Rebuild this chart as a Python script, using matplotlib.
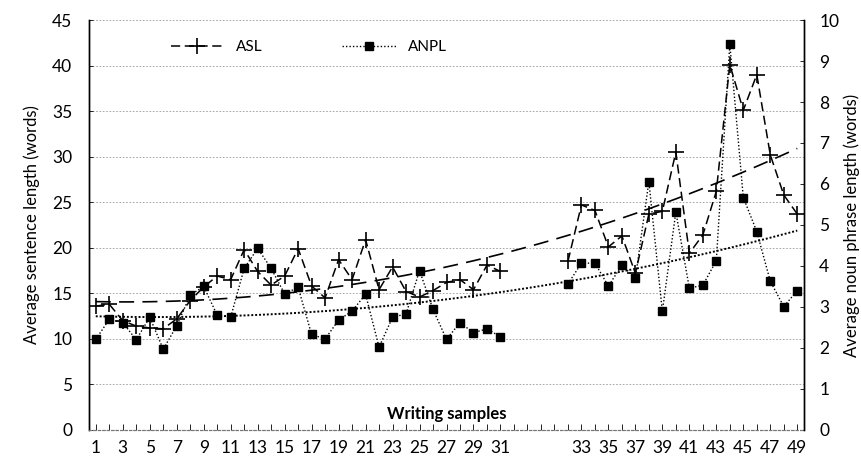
import numpy as np
import matplotlib.pyplot as plt

plt.rcParams['font.family'] = ['Lato', 'DejaVu Sans']

# writing samples 1-31, then an empty stretch, then 32-49
first_block = list(range(1, 32))
second_block = list(range(32, 50))
n_blank = 4

asl_1 = [13.6, 13.8, 12.0, 11.4, 11.2, 11.1, 12.2, 14.2, 15.7, 16.9,
         16.5, 19.8, 17.4, 15.9, 16.9, 19.9, 15.8, 14.5, 18.7, 16.5,
         20.9, 15.4, 17.9, 15.2, 14.6, 15.3, 16.2, 16.5, 15.4, 18.1,
         17.4]
asl_2 = [18.5, 24.7, 24.1, 20.1, 21.3, 17.2, 23.7, 24.0, 30.5, 19.4,
         21.4, 26.2, 40.1, 35.1, 39.0, 30.2, 25.8, 23.7]

anpl_1 = [2.21, 2.70, 2.62, 2.20, 2.75, 1.97, 2.54, 3.29, 3.50, 2.80,
          2.75, 3.94, 4.43, 3.94, 3.32, 3.48, 2.33, 2.22, 2.68, 2.90,
          3.31, 2.02, 2.75, 2.83, 3.89, 2.94, 2.21, 2.62, 2.37, 2.47,
          2.27]
anpl_2 = [3.56, 4.07, 4.07, 3.51, 4.02, 3.70, 6.06, 2.89, 5.32, 3.46,
          3.53, 4.13, 9.41, 5.67, 4.84, 3.63, 3.01, 3.40]

labels = [str(s) for s in first_block] + [''] * n_blank + [str(s) for s in second_block]
asl = np.array(asl_1 + [np.nan] * n_blank + asl_2)
anpl = np.array(anpl_1 + [np.nan] * n_blank + anpl_2)
pos = np.arange(1, len(labels) + 1)

# polynomial trendlines (order 2), like the spreadsheet ones
ok = ~np.isnan(asl)
asl_fit = np.polyval(np.polyfit(pos[ok], asl[ok], 2), pos)
anpl_fit = np.polyval(np.polyfit(pos[ok], anpl[ok], 2), pos)

fig = plt.figure(figsize=(8.61, 4.62), dpi=100)
ax = fig.add_axes([0.1034, 0.0693, 0.8304, 0.8874])
ax2 = ax.twinx()

ax.plot(pos, asl, color='black', linestyle=(0, (6, 3)), linewidth=1.1,
        marker='+', markersize=11, markeredgewidth=1.2, label='ASL')
ax.plot(pos, asl_fit, color='black', linestyle=(0, (9, 5)), linewidth=1.2)

ax2.plot(pos, anpl, color='black', linestyle=(0, (1, 1.5)), linewidth=1.0,
         marker='s', markersize=5.5, label='ANPL')
ax2.plot(pos, anpl_fit, color='black', linestyle=(0, (1, 1)), linewidth=1.4)

ax.set_xlim(0.5, len(labels) + 0.5)
ax.set_ylim(0, 45)
ax2.set_ylim(0, 10)
ax.set_yticks(np.arange(0, 46, 5))
ax2.set_yticks(np.arange(0, 11, 1))

ax.set_xticks(pos)
ax.set_xticklabels([lab if i % 2 == 0 else '' for i, lab in enumerate(labels)])

ax.grid(axis='y', color='#999999', linestyle=(0, (2, 2)), linewidth=0.6)
ax.set_axisbelow(True)

for a in (ax, ax2):
    a.spines['top'].set_visible(False)
    a.spines['bottom'].set_linestyle((0, (2, 2)))
    a.spines['bottom'].set_color('#777777')
    a.spines['left'].set_linewidth(1.0)
    a.spines['right'].set_linewidth(1.0)

ax.tick_params(axis='x', direction='in', length=4, width=0.6, labelsize=12.5, pad=7)
ax.tick_params(axis='y', direction='in', length=3, width=0.6, labelsize=12.5, pad=12)
ax2.tick_params(axis='y', direction='in', length=3, width=0.6, labelsize=12.5, pad=11)

ax.set_ylabel('Average sentence length (words)', fontsize=12, labelpad=9)
ax2.set_ylabel('Average noun phrase length (words)', fontsize=12, labelpad=3)

ax.text(0.5, 0.04, 'Writing samples', transform=ax.transAxes, ha='center',
        va='center', fontsize=12, fontweight='bold')

h1, l1 = ax.get_legend_handles_labels()
h2, l2 = ax2.get_legend_handles_labels()
ax.legend(h1 + h2, l1 + l2, loc='upper left', bbox_to_anchor=(0.095, 0.985),
          ncol=2, frameon=False, fontsize=11, handlelength=3.5, columnspacing=5.2)

fig.savefig('out.png', dpi=100)
